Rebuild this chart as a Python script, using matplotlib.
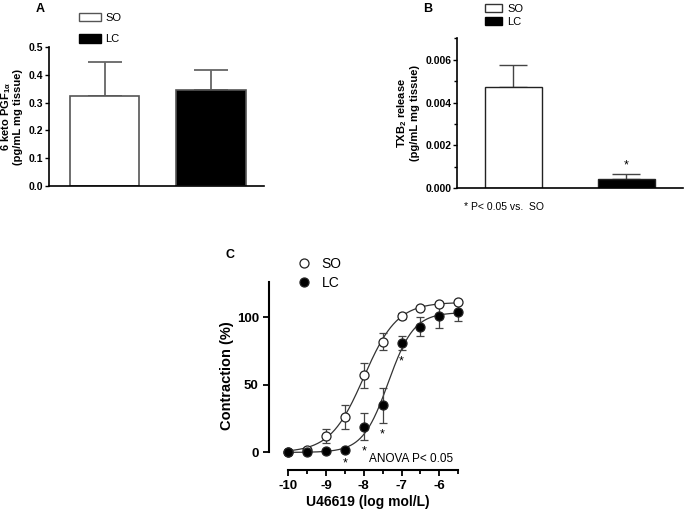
import numpy as np
import matplotlib
matplotlib.use("Agg")
import matplotlib.pyplot as plt
from matplotlib.patches import Patch
from matplotlib.lines import Line2D
from matplotlib.ticker import MultipleLocator, FixedLocator, FormatStrFormatter

plt.rcParams['font.family'] = ['Liberation Sans', 'DejaVu Sans']
plt.rcParams['axes.unicode_minus'] = False
plt.rcParams['mathtext.fontset'] = 'custom'
plt.rcParams['mathtext.bf'] = 'Liberation Sans:bold'
plt.rcParams['mathtext.rm'] = 'Liberation Sans:bold'
plt.rcParams['mathtext.it'] = 'Liberation Sans:bold'

# panel A: 6-keto PGF1a
groups = ["SO", "LC"]
pgf_mean = [0.323, 0.346]
pgf_err = [0.125, 0.073]

# panel B: TXB2
txb_mean = [0.00473, 0.00043]
txb_err = [0.00103, 0.00025]

# panel C: concentration-response to U46619
log_conc = [-10, -9.5, -9, -8.5, -8, -7.5, -7, -6.5, -6, -5.5]
so_resp = [0, 2, 12, 26, 57, 82, 101, 107, 110, 111]
so_err = [0, 1, 5, 9, 9, 6, 2, 1, 1, 1]
lc_resp = [0, 0, 1, 1.5, 19, 35, 81, 93, 101, 104]
lc_err = [0, 0, 1, 1, 10, 13, 5, 7, 9, 7]
lc_sig = [-8.5, -8, -7.5, -7]


def coarse_fit(x, y):
    # grid least squares for y = top / (1 + 10**((ec50 - x) * hill))
    x = np.asarray(x, float)
    y = np.asarray(y, float)
    tops = np.arange(90, 125, 0.5)[:, None, None]
    ecs = np.arange(-9, -6.5, 0.01)[None, :, None]
    hs = np.arange(0.5, 2.5, 0.02)[None, None, :]
    sse = np.zeros((tops.size, ecs.size, hs.size))
    for xi, yi in zip(x, y):
        sse += (tops / (1 + 10 ** ((ecs - xi) * hs)) - yi) ** 2
    i, j, k = np.unravel_index(np.argmin(sse), sse.shape)
    return tops.ravel()[i], ecs.ravel()[j], hs.ravel()[k]


fig = plt.figure(figsize=(6.85, 5.17), dpi=100)

# ---- panel A
axA = fig.add_axes([0.0715, 0.640, 0.314, 0.269])
xA = np.arange(len(groups))
axA.bar(xA, pgf_mean, width=0.654, color=['white', 'black'],
        edgecolor='#555555', linewidth=1.2, zorder=2)
axA.errorbar(xA, pgf_mean, yerr=[[0, 0], pgf_err], fmt='none',
             ecolor='#666666', elinewidth=1.3, capsize=12, capthick=1.3, zorder=1)
axA.set_xlim(-0.526, 1.502)
axA.set_ylim(0, 0.5)
axA.yaxis.set_major_locator(MultipleLocator(0.1))
axA.yaxis.set_major_formatter(FormatStrFormatter('%.1f'))
axA.set_xticks([])
for s in ['top', 'right']:
    axA.spines[s].set_visible(False)
for s in ['left', 'bottom']:
    axA.spines[s].set_linewidth(1.2)
axA.tick_params(axis='y', labelsize=7.5, length=3, width=1, pad=1)
for t in axA.get_yticklabels():
    t.set_fontweight('bold')
axA.set_ylabel("6 keto PGF$_{1\\alpha}$\n(pg/mL mg tissue)", fontsize=8,
               fontweight='bold', labelpad=4, linespacing=1.1)
fig.text(0.058, 0.983, "A", fontsize=9, fontweight='bold', ha='center', va='center')
hA = [Patch(facecolor='white', edgecolor='#555555', linewidth=1),
      Patch(facecolor='black', edgecolor='black')]
axA.legend(hA, groups, loc='upper left', bbox_to_anchor=(0.100, 0.995),
           bbox_transform=fig.transFigure, frameon=False, fontsize=8,
           handlelength=2.0, handleheight=0.8, handletextpad=0.4, labelspacing=1.05)

# ---- panel B
axB = fig.add_axes([0.667, 0.636, 0.33, 0.290])
xB = np.arange(len(groups))
axB.bar(xB, txb_mean, width=0.504, color=['white', 'black'],
        edgecolor='#222222', linewidth=1.0, zorder=2)
axB.errorbar(xB, txb_mean, yerr=[[0, 0], txb_err], fmt='none',
             ecolor='#444444', elinewidth=1.0, capsize=10, capthick=1.0, zorder=1)
axB.set_xlim(-0.5, 1.5)
axB.set_ylim(0, 0.007)
axB.yaxis.set_major_locator(MultipleLocator(0.002))
axB.yaxis.set_minor_locator(MultipleLocator(0.001))
axB.yaxis.set_major_formatter(FormatStrFormatter('%.3f'))
axB.set_xticks([])
for s in ['top', 'right']:
    axB.spines[s].set_visible(False)
for s in ['left', 'bottom']:
    axB.spines[s].set_linewidth(1.2)
axB.tick_params(axis='y', which='major', labelsize=7.5, length=3, width=1, pad=1)
axB.tick_params(axis='y', which='minor', length=2, width=1)
for t in axB.get_yticklabels():
    t.set_fontweight('bold')
axB.set_ylabel("TXB$_2$ release\n(pg/mL mg tissue)", fontsize=8,
               fontweight='bold', labelpad=4, linespacing=1.1)
axB.text(1, txb_mean[1] + txb_err[1] + 0.0001, "*", ha='center', va='bottom', fontsize=9)
fig.text(0.678, 0.600, "* P< 0.05 vs.  SO", fontsize=7.5, ha='left', va='center')
fig.text(0.625, 0.983, "B", fontsize=9, fontweight='bold', ha='center', va='center')
hB = [Patch(facecolor='white', edgecolor='#333333', linewidth=1),
      Patch(facecolor='black', edgecolor='black')]
axB.legend(hB, groups, loc='upper left', bbox_to_anchor=(0.694, 1.012),
           bbox_transform=fig.transFigure, frameon=False, fontsize=8,
           handlelength=1.5, handleheight=0.7, handletextpad=0.5, labelspacing=0.3)

# ---- panel C
axC = fig.add_axes([0.393, 0.0909, 0.287, 0.3636])
xs = np.linspace(-10, -5.5, 300)
for resp, err, face in [(so_resp, so_err, 'white'), (lc_resp, lc_err, 'black')]:
    top, ec, h = coarse_fit(log_conc, resp)
    axC.plot(xs, top / (1 + 10 ** ((ec - xs) * h)), color='#333333', lw=0.9, zorder=1)
    axC.errorbar(log_conc, resp, yerr=err, fmt='o', ms=6.5, mfc=face,
                 mec='#222222', mew=0.9, ecolor='#444444', elinewidth=0.9,
                 capsize=3, capthick=0.9, zorder=3)
for xv in lc_sig:
    i = log_conc.index(xv)
    axC.text(xv, lc_resp[i] - lc_err[i] - 4, "*", ha='center', va='top', fontsize=9)
axC.text(-7.85, -5, "ANOVA P< 0.05", fontsize=8.5, ha='left', va='center')
axC.set_xlim(-10.5, -5.3)
axC.set_ylim(-13, 126)
axC.spines['left'].set_bounds(0, 126)
axC.spines['bottom'].set_bounds(-10, -5.5)
for s in ['top', 'right']:
    axC.spines[s].set_visible(False)
for s in ['left', 'bottom']:
    axC.spines[s].set_linewidth(1.5)
axC.set_yticks([0, 50, 100])
axC.set_xticks([-10, -9, -8, -7, -6])
axC.xaxis.set_minor_locator(FixedLocator([-9.5, -8.5, -7.5, -6.5, -5.5]))
axC.tick_params(axis='both', which='major', labelsize=9.5, length=4, width=1.3)
axC.tick_params(axis='x', which='minor', length=3, width=1.3)
for t in axC.get_xticklabels() + axC.get_yticklabels():
    t.set_fontweight('bold')
axC.set_xlabel("U46619 (log mol/L)", fontsize=10, fontweight='bold', labelpad=2)
axC.set_ylabel("Contraction (%)", fontsize=10.5, fontweight='bold', labelpad=2)
fig.text(0.336, 0.507, "C", fontsize=9, fontweight='bold', ha='center', va='center')
hC = [Line2D([], [], marker='o', ls='none', ms=6.5, mfc='white', mec='#222222', mew=0.9),
      Line2D([], [], marker='o', ls='none', ms=6.5, mfc='black', mec='#222222', mew=0.9)]
axC.legend(hC, groups, loc='upper left', bbox_to_anchor=(0.423, 0.516),
           bbox_transform=fig.transFigure, frameon=False, fontsize=10,
           handlelength=1.0, handletextpad=0.8, labelspacing=0.35, borderpad=0)

fig.savefig("out.png", dpi=100)
